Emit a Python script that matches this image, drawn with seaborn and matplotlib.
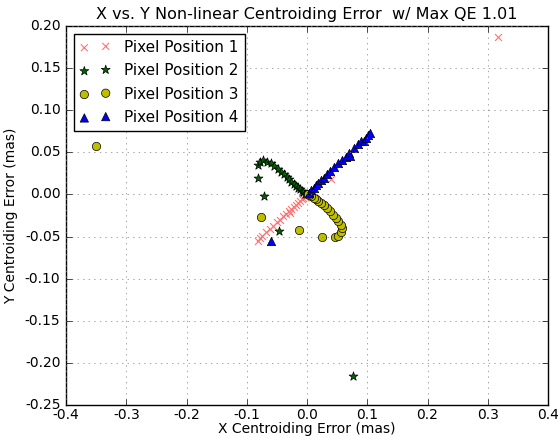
"""Non-linear centroiding error scatter, X vs Y, four pixel positions."""
import matplotlib
matplotlib.use("Agg")
import matplotlib.pyplot as plt
import pandas as pd
import seaborn as sns

# pixel position 1 (red x)
x_pos1 = [0.317, 0.040, -0.028, -0.082, -0.078, -0.074, -0.068, -0.062, -0.056, -0.050,
          -0.045, -0.040, -0.035, -0.030, -0.026, -0.022, -0.018, -0.015, -0.012,
          -0.009, -0.006, -0.004, -0.002, 0.000]
y_pos1 = [0.187, 0.018, -0.022, -0.055, -0.052, -0.049, -0.045, -0.041, -0.037, -0.033,
          -0.030, -0.026, -0.023, -0.020, -0.017, -0.015, -0.012, -0.010, -0.008,
          -0.006, -0.004, -0.003, -0.001, 0.000]

# pixel position 2 (green star)
x_pos2 = [0.076, -0.081, -0.081, -0.071, -0.046, -0.078, -0.073, -0.066, -0.060, -0.054,
          -0.048, -0.043, -0.038, -0.034, -0.030, -0.026, -0.022, -0.018, -0.015,
          -0.012, -0.009, -0.006, -0.003, 0.000]
y_pos2 = [-0.215, 0.035, 0.020, -0.002, -0.043, 0.039, 0.041, 0.039, 0.037, 0.034,
          0.030, 0.027, 0.024, 0.021, 0.018, 0.015, 0.012, 0.010, 0.008,
          0.006, 0.004, 0.003, 0.001, 0.000]

# pixel position 3 (yellow circle)
x_pos3 = [-0.350, -0.076, -0.013, 0.025, 0.046, 0.052, 0.057, 0.058, 0.056, 0.052,
          0.048, 0.043, 0.038, 0.033, 0.028, 0.023, 0.019, 0.015, 0.011, 0.007,
          0.004, 0.001]
y_pos3 = [0.058, -0.027, -0.042, -0.050, -0.051, -0.049, -0.045, -0.040, -0.036, -0.032,
          -0.028, -0.024, -0.020, -0.016, -0.013, -0.010, -0.008, -0.006, -0.004, -0.002,
          -0.001, 0.000]

# pixel position 4 (blue triangle)
x_pos4 = [-0.060, 0.003, 0.007, 0.011, 0.015, 0.019, 0.023, 0.028, 0.033, 0.039,
          0.045, 0.052, 0.058, 0.064, 0.070, 0.072, 0.078, 0.085, 0.090, 0.095,
          0.098, 0.102, 0.105]
y_pos4 = [-0.055, 0.002, 0.005, 0.008, 0.011, 0.014, 0.017, 0.020, 0.024, 0.028,
          0.032, 0.037, 0.041, 0.045, 0.049, 0.046, 0.055, 0.060, 0.064, 0.063,
          0.067, 0.070, 0.073]

series = [
    ("Pixel Position 1", x_pos1, y_pos1, "x", (1.0, 0.45, 0.45)),
    ("Pixel Position 2", x_pos2, y_pos2, "*", (0.0, 0.4, 0.0)),
    ("Pixel Position 3", x_pos3, y_pos3, "o", (0.75, 0.75, 0.0)),
    ("Pixel Position 4", x_pos4, y_pos4, "^", (0.0, 0.0, 1.0)),
]

plt.style.use("classic")
fig = plt.figure(figsize=(5.58, 4.37), dpi=100, facecolor="white")
ax = fig.add_axes([66 / 558, 32 / 437, 482 / 558, 379 / 437])

for label, xs, ys, marker, color in series:
    df = pd.DataFrame({"x": xs, "y": ys})
    if marker == "x":
        sns.scatterplot(data=df, x="x", y="y", marker="x", color=color, s=25,
                        linewidth=0.8, label=label, ax=ax)
    else:
        size = 45 if marker == "*" else 36
        sns.scatterplot(data=df, x="x", y="y", marker=marker, color=color, s=size,
                        edgecolor="black", linewidth=0.5, label=label, ax=ax)

ax.set_xlim(-0.4, 0.4)
ax.set_ylim(-0.25, 0.20)
ax.set_xticks([-0.4, -0.3, -0.2, -0.1, 0.0, 0.1, 0.2, 0.3, 0.4])
ax.set_yticks([-0.25, -0.20, -0.15, -0.10, -0.05, 0.00, 0.05, 0.10, 0.15, 0.20])
ax.xaxis.set_major_formatter(matplotlib.ticker.FormatStrFormatter("%.1f"))
ax.yaxis.set_major_formatter(matplotlib.ticker.FormatStrFormatter("%.2f"))
ax.tick_params(labelsize=10)
ax.tick_params(axis="x", pad=2)
ax.grid(True, linestyle=":", color="gray")
ax.set_xlabel("X Centroiding Error (mas)", fontsize=10, labelpad=0)
ax.set_ylabel("Y Centroiding Error (mas)", fontsize=10)
ax.set_title("X vs. Y Non-linear Centroiding Error  w/ Max QE 1.01", fontsize=11.5)
ax.legend(loc="upper left", scatterpoints=2, fontsize=11, borderaxespad=0.5,
          handletextpad=0.9, labelspacing=0.55)

fig.savefig("out.png", dpi=100, facecolor="white")
